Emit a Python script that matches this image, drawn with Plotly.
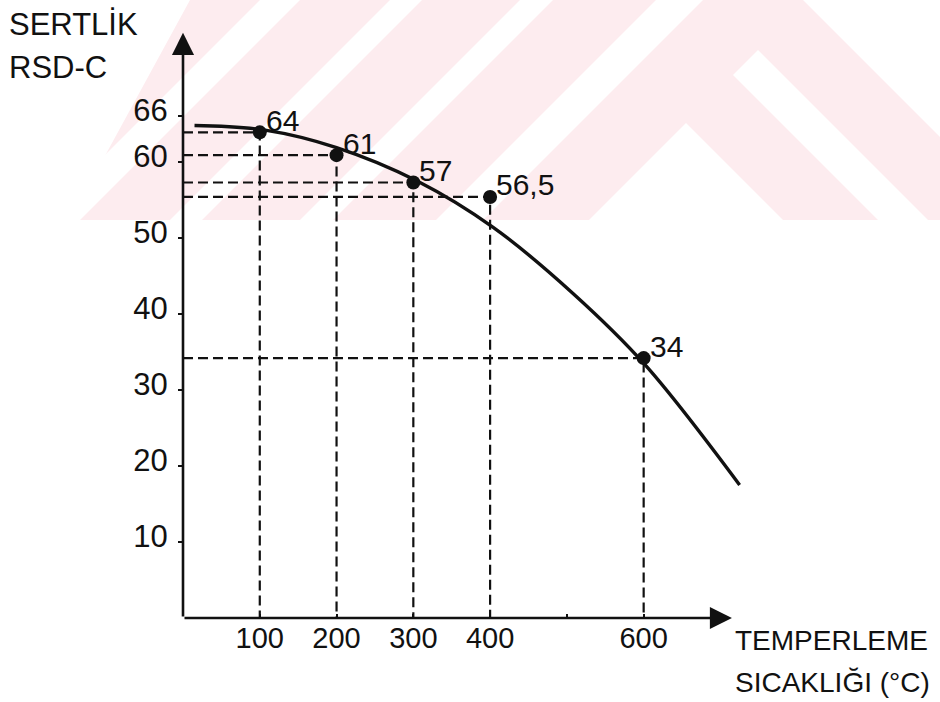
import plotly.graph_objects as go

# ---------------- data ----------------
temps = [100, 200, 300, 400, 600]                 # TEMPERLEME SICAKLIĞI (°C)
hardness = [63.9, 60.9, 57.3, 55.4, 34.2]          # drawn marker positions (RSD-C)
point_labels = ["64", "61", "57", "56,5", "34"]

curve_x = [15, 107, 200, 305, 404, 508, 602, 725]
curve_y = [64.8, 64.2, 61.9, 57.5, 51.4, 42.7, 33.3, 17.5]

y_ticks = [10, 20, 30, 40, 50, 60, 66]
x_ticks = [100, 200, 300, 400, 500, 600]
x_ticktext = ["100", "200", "300", "400", "", "600"]

# ---------------- layout geometry ----------------
W, H = 940, 702
ML, MT, MB = 183, 29, 84
XMAX = 732
PW = round(XMAX * 0.768)
MR = W - ML - PW
PH = H - MT - MB
FONT = "Liberation Sans"
INK = "#111111"


def pp(px, py):
    """pixel -> paper coordinates"""
    return (px - ML) / PW, 1 - (py - MT) / PH


fig = go.Figure()

# dashed guide lines (from the data points to the axes)
for tx, hy in zip(temps, hardness):
    fig.add_trace(go.Scatter(x=[0, tx, tx], y=[hy, hy, 0], mode="lines",
                             line=dict(color=INK, width=2.2, dash="10px,5px"),
                             hoverinfo="skip", showlegend=False))

# curve
fig.add_trace(go.Scatter(x=curve_x, y=curve_y, mode="lines",
                         line=dict(color=INK, width=3.4, shape="spline", smoothing=1.0),
                         hoverinfo="skip", showlegend=False))

# points
fig.add_trace(go.Scatter(x=temps, y=hardness, mode="markers",
                         marker=dict(color=INK, size=14), showlegend=False))

# ---------------- watermark (pale pink chevron stripes) ----------------
PINK = "#fdecef"


def poly(points, color):
    s = "M " + " L ".join(f"{pp(x, y)[0]:.5f},{pp(x, y)[1]:.5f}" for x, y in points) + " Z"
    return dict(type="path", path=s, xref="paper", yref="paper",
                fillcolor=color, line=dict(width=0), layer="below")


shapes = [
    poly([(190, 0), (803, 0), (940, 137), (940, 220), (70, 220)], PINK),
    poly([(260, 0), (300, 0), (80, 220), (40, 220)], "white"),
    poly([(390, 0), (422, 0), (202, 220), (170, 220)], "white"),
    poly([(520, 0), (553, 0), (333, 220), (300, 220)], "white"),
    poly([(656, 0), (703, 0), (483, 220), (436, 220)], "white"),
    poly([(686, 123), (589, 220), (783, 220)], "white"),
    poly([(758, 50), (733, 75), (878, 220), (928, 220)], "white"),
]

# ---------------- axes arrows + titles ----------------
ann = [
    dict(x=715, y=0, ax=0, ay=0, xref="x", yref="y", axref="x", ayref="y",
         text="", showarrow=True, arrowhead=2, arrowsize=1.7, arrowwidth=2.6,
         arrowcolor=INK, standoff=0),
    dict(x=0, y=77, ax=0, ay=0, xref="x", yref="y", axref="x", ayref="y",
         text="", showarrow=True, arrowhead=2, arrowsize=1.7, arrowwidth=2.6,
         arrowcolor=INK, standoff=0),
]

# point value labels
for tx, hy, lab in zip(temps, hardness, point_labels):
    ann.append(dict(x=tx, y=hy, xref="x", yref="y", text=lab, showarrow=False,
                    xanchor="left", yanchor="middle", xshift=4, yshift=12,
                    font=dict(family=FONT, size=30, color=INK)))


def label(text, px, py, anchor="left", size=28, family=FONT):
    x, y = pp(px, py)
    return dict(x=x, y=y, xref="paper", yref="paper", text=text, showarrow=False,
                xanchor=anchor, yanchor="middle",
                font=dict(family=family, size=size, color=INK))


ann += [
    label("SERTLİK", 7, 25, size=31),
    label("RSD-C", 7, 68, size=31),
    label("TEMPERLEME", 733, 640, size=28),
    label("SICAKLIĞI (°C)", 733, 682, size=28),
]

fig.update_layout(
    width=W, height=H,
    margin=dict(l=ML, r=MR, t=MT, b=MB),
    paper_bgcolor="white", plot_bgcolor="rgba(0,0,0,0)",
    shapes=shapes, annotations=ann,
    xaxis=dict(range=[0, XMAX], showgrid=False, zeroline=False, showline=False,
               tickvals=x_ticks, ticktext=x_ticktext, ticks="inside", ticklen=4,
               tickwidth=2, tickcolor=INK, ticklabelstandoff=0,
               tickfont=dict(family=FONT, size=29, color=INK)),
    yaxis=dict(range=[0, 77.5], showgrid=False, zeroline=False, showline=False,
               tickvals=y_ticks, ticks="outside", ticklen=4, tickwidth=2,
               tickcolor=INK, ticklabelstandoff=4, ticklabelshift=-6,
               tickfont=dict(family=FONT, size=31, color=INK)),
    showlegend=False,
)

fig.write_html("out.html")
